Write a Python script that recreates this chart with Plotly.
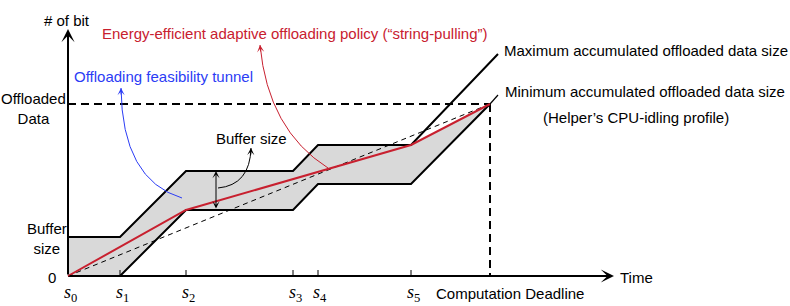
import plotly.graph_objects as go

# ---- data (arbitrary units: time on x, # of bit on y) ----
tick_names = ["s<sub>0</sub>", "s<sub>1</sub>", "s<sub>2</sub>", "s<sub>3</sub>", "s<sub>4</sub>", "s<sub>5</sub>"]
tick_times = [0, 52, 118, 225, 250, 343]
deadline = 422
offloaded_data = 172
buffer_size = 39

min_x = [0, 52, 118, 225, 250, 343, 422]
min_y = [0, 0, 66, 66, 92, 92, 172]
max_x = [0, 52, 118, 225, 250, 343, 430]
max_y = [39, 39, 105, 105, 131, 131, 222]
policy_x = [0, 118, 343, 422]
policy_y = [0, 66, 131, 172]
min_leader_x = [422, 430]
min_leader_y = [172, 181]

# curved-arrow control points (start, control, end)
blue_curve = [(114, 78), (54, 96), (53, 188)]
red_curve = [(260, 108), (200, 146), (192, 231)]
black_curve = [(150, 88), (182, 91), (183, 128)]

FONT = "Liberation Sans, Arial, Helvetica, sans-serif"
RED = "#c8202f"
BLUE = "#2b3cf5"
GRAY = "#d9d9d9"
FS = 15

fig = go.Figure()

# tunnel fill (upper boundary to deadline, then lower boundary back)
tun_x = max_x[:-1] + [deadline] + min_x[::-1]
tun_y = max_y[:-1] + [offloaded_data] + min_y[::-1]
fig.add_trace(go.Scatter(x=tun_x, y=tun_y, fill="toself", fillcolor=GRAY,
                         line=dict(width=0), mode="lines", hoverinfo="skip"))

# dashed guides
fig.add_trace(go.Scatter(x=[0, deadline], y=[0, offloaded_data], mode="lines",
                         line=dict(color="black", width=1, dash="5px,4px"), hoverinfo="skip"))
fig.add_trace(go.Scatter(x=[0, deadline], y=[offloaded_data, offloaded_data], mode="lines",
                         line=dict(color="black", width=2, dash="8px,5px"), hoverinfo="skip"))
fig.add_trace(go.Scatter(x=[deadline, deadline], y=[offloaded_data, 0], mode="lines",
                         line=dict(color="black", width=2, dash="8px,5px"), hoverinfo="skip"))

# max / min profiles
fig.add_trace(go.Scatter(x=max_x, y=max_y, mode="lines",
                         line=dict(color="black", width=2), hoverinfo="skip"))
fig.add_trace(go.Scatter(x=min_x, y=min_y, mode="lines",
                         line=dict(color="black", width=2), hoverinfo="skip"))
fig.add_trace(go.Scatter(x=min_leader_x, y=min_leader_y, mode="lines",
                         line=dict(color="black", width=1.2), hoverinfo="skip"))

# policy
fig.add_trace(go.Scatter(x=policy_x, y=policy_y, mode="lines",
                         line=dict(color=RED, width=2), hoverinfo="skip"))

# tick marks
for t in tick_times[1:]:
    fig.add_trace(go.Scatter(x=[t, t], y=[0, 6], mode="lines",
                             line=dict(color="black", width=1), hoverinfo="skip"))

shapes = []
for pts, col in [(blue_curve, BLUE), (red_curve, RED), (black_curve, "black")]:
    (x0, y0), (x1, y1), (x2, y2) = pts
    shapes.append(dict(type="path", xref="x", yref="y",
                       path=f"M {x0},{y0} Q {x1},{y1} {x2},{y2}",
                       line=dict(color=col, width=1)))

ann = []
# axes with arrows
ann.append(dict(x=546, y=0, ax=0, ay=0, axref="x", ayref="y", xref="x", yref="y",
                showarrow=True, arrowhead=3, arrowsize=1.1, arrowwidth=2, arrowcolor="black", text=""))
ann.append(dict(x=0, y=247, ax=0, ay=0, axref="x", ayref="y", xref="x", yref="y",
                showarrow=True, arrowhead=3, arrowsize=1.1, arrowwidth=2, arrowcolor="black", text=""))
# curve arrowheads
for pts, col in [(blue_curve, BLUE), (red_curve, RED), (black_curve, "black")]:
    (x1, y1), (x2, y2) = pts[1], pts[2]
    dx, dy = x2 - x1, y2 - y1
    L = (dx * dx + dy * dy) ** 0.5
    ann.append(dict(x=x2, y=y2, ax=x2 - dx / L * 8, ay=y2 - dy / L * 8, axref="x", ayref="y",
                    xref="x", yref="y", showarrow=True, arrowhead=3, arrowsize=1.2,
                    arrowwidth=1, arrowcolor=col, text=""))
# buffer double arrow
ann.append(dict(x=148, y=max_y[2], ax=148, ay=min_y[2], axref="x", ayref="y", xref="x", yref="y",
                showarrow=True, arrowhead=3, startarrowhead=3, arrowside="end+start",
                arrowsize=1.2, startarrowsize=1.2, arrowwidth=1, arrowcolor="black", text=""))


def txt(x, y, s, color="black", size=FS, family=FONT, xanchor="center"):
    ann.append(dict(x=x, y=y, xref="x", yref="y", text=s, showarrow=False,
                    font=dict(family=family, size=size, color=color), xanchor=xanchor,
                    yanchor="middle"))


txt(-1, 256, "# of bit")
txt(226, 243, "Energy-efficient adaptive offloading policy (“string-pulling”)", RED)
txt(95, 200, "Offloading feasibility tunnel", BLUE)
txt(-35, 168, "Offloaded<br>Data")
txt(183, 138, "Buffer size")
txt(-21, 38, "Buffer<br>size")
txt(-16, -1, "0")
txt(568, -1, "Time")
txt(442, -17, "Computation Deadline")
txt(434, 226, "Maximum accumulated offloaded data size", xanchor="left")
txt(435, 185, "Minimum accumulated offloaded data size", xanchor="left")
txt(568, 159, "(Helper’s CPU-idling profile)")
for name, t in zip(tick_names, tick_times):
    txt(t + 2, -17, f"<i>{name[0]}</i>{name[1:]}", family="Liberation Serif, serif", size=18)

fig.update_layout(
    width=790, height=306, margin=dict(l=0, r=0, t=0, b=0, autoexpand=False),
    paper_bgcolor="white", plot_bgcolor="white", showlegend=False,
    xaxis=dict(range=[-68, 722], visible=False, fixedrange=True),
    yaxis=dict(range=[-30, 276], visible=False, fixedrange=True),
    shapes=shapes, annotations=ann,
)
fig.write_html("out.html", config={"displayModeBar": False},
               post_script="document.body.style.margin='0';document.body.style.overflow='hidden';")
